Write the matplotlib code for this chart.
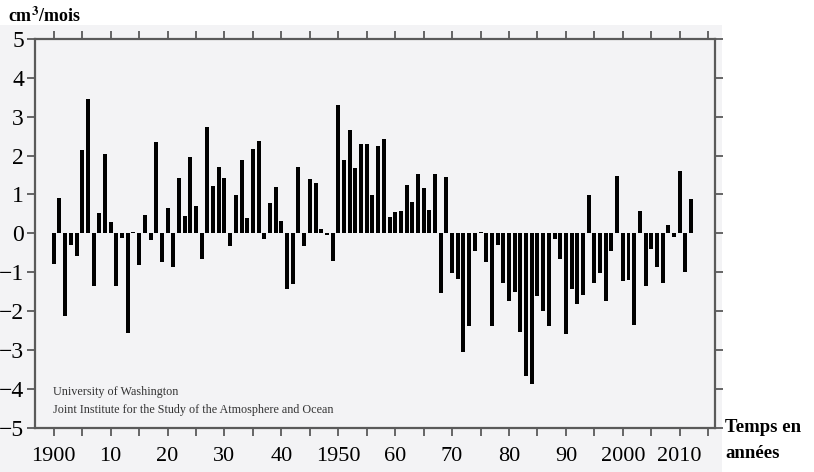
import numpy as np
import matplotlib
matplotlib.use("Agg")
import matplotlib.pyplot as plt
from matplotlib.patches import Rectangle
from matplotlib.ticker import MultipleLocator

matplotlib.rcParams['font.family'] = ['Liberation Serif', 'DejaVu Serif']

# annual values, 1900-2012 (cm3/mois)
years = np.arange(1900, 2013)
values = [
    -0.80, 0.92, -2.13, -0.31, -0.58, 2.13, 3.46, -1.35, 0.51, 2.03,   # 1900-09
    0.30, -1.35, -0.11, -2.57, 0.02, -0.82, 0.46, -0.17, 2.35, -0.73,   # 1910-19
    0.64, -0.88, 1.43, 0.45, 1.95, 0.69, -0.67, 2.73, 1.22, 1.71,       # 1920-29
    1.41, -0.34, 0.98, 1.89, 0.40, 2.16, 2.37, -0.14, 0.77, 1.19,       # 1930-39
    0.32, -1.44, -1.31, 1.71, -0.34, 1.39, 1.29, 0.10, -0.05, -0.71,    # 1940-49
    3.29, 1.89, 2.66, 1.67, 2.31, 2.31, 0.98, 2.25, 2.42, 0.42,         # 1950-59
    0.55, 0.57, 1.23, 0.81, 1.52, 1.16, 0.60, 1.52, -1.54, 1.45,        # 1960-69
    -1.03, -1.17, -3.05, -2.38, -0.45, 0.04, -0.73, -2.40, -0.31, -1.29,  # 1970-79
    -1.74, -1.50, -2.53, -3.68, -3.88, -1.61, -2.00, -2.38, -0.15, -0.67,  # 1980-89
    -2.60, -1.44, -1.83, -1.59, 0.98, -1.28, -1.03, -1.74, -0.45, 1.47,    # 1990-99
    -1.23, -1.20, -2.36, 0.57, -1.35, -0.41, -0.88, -1.27, 0.21, -0.09,    # 2000-09
    1.60, -0.99, 0.89,                                                     # 2010-12
]
xticks = [1900, 1910, 1920, 1930, 1940, 1950, 1960, 1970, 1980, 1990, 2000, 2010]
xtick_labels = ['1900', '10', '20', '30', '40', '1950', '60', '70', '80', '90', '2000', '2010']
yticks = [5, 4, 3, 2, 1, 0, -1, -2, -3, -4, -5]
ytick_labels = ['5', '4', '3', '2', '1', '0', '\u22121', '\u22122', '\u22123', '\u22124', '\u22125']

W, H = 814, 472
fig = plt.figure(figsize=(W / 100, H / 100), dpi=100)
fig.patch.set_facecolor('white')

# light grey panel behind the plot
bg = '#f3f3f5'
fig.patches.append(Rectangle((0, 0), 722 / W, (H - 25) / H, transform=fig.transFigure,
                             facecolor=bg, edgecolor='none', zorder=-10))

ax = fig.add_axes([35 / W, (H - 427.5) / H, (715 - 35) / W, (427.5 - 39) / H])
ax.set_facecolor(bg)

ax.bar(years, values, width=0.7, color='black', zorder=3)

ax.set_xlim(1896.7, 2016.2)
ax.set_ylim(-5, 5)

ax.set_xticks(xticks)
ax.set_xticklabels(xtick_labels)
ax.xaxis.set_minor_locator(MultipleLocator(5))
ax.set_yticks(yticks)
ax.set_yticklabels(ytick_labels)

spine_col = '#5a5a5a'
for s in ax.spines.values():
    s.set_color(spine_col)
    s.set_linewidth(1.6)

ax.tick_params(axis='both', which='both', direction='out', length=6, width=1.3,
               color=spine_col, top=True, right=True, labeltop=False, labelright=False)
ax.tick_params(axis='y', which='minor', left=False, right=False)
ax.tick_params(axis='x', labelsize=16, pad=8)
ax.tick_params(axis='y', labelsize=17, pad=2)

ax.text(0.027, 0.092, 'University of Washington', transform=ax.transAxes,
        fontsize=8.7, color='#333333', va='center', ha='left')
ax.text(0.027, 0.045, 'Joint Institute for the Study of the Atmosphere and Ocean',
        transform=ax.transAxes, fontsize=8.7, color='#333333', va='center', ha='left')

fig.text(8 / W, 1 - 16 / H, 'cm$^{\\mathbf{3}}$/mois', fontsize=13, fontweight='bold',
         va='center', ha='left', math_fontfamily='stix')
fig.text(725 / W, 1 - 428 / H, 'Temps en', fontsize=13.5, fontweight='bold',
         va='center', ha='left')
fig.text(725 / W, 1 - 453 / H, 'années', fontsize=13.5, fontweight='bold',
         va='center', ha='left')

fig.savefig('out.png', dpi=100, facecolor=fig.get_facecolor())
